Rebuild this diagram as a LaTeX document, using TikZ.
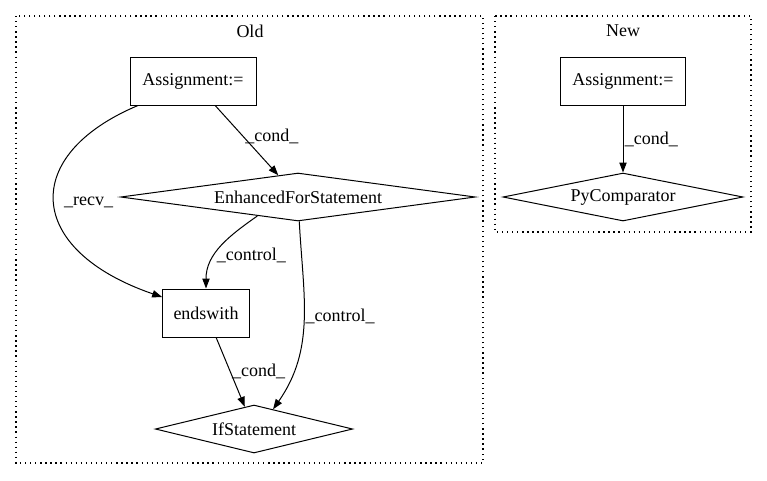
\documentclass[tikz,border=0pt]{standalone}
\usepackage{fontspec}
\setmainfont{Liberation Serif}
\usepackage{tikz}
\usetikzlibrary{shapes.geometric, arrows.meta}

\begin{document}
\begin{tikzpicture}[x=0.75pt, y=-0.75pt, line width=0.75pt,
    font=\fontsize{13.5}{16}\selectfont,
    >={Triangle[length=7.5pt, width=5.5pt]},
    box/.style={draw, rectangle, inner sep=0pt, minimum height=36pt},
    decision/.style={draw, diamond, aspect=6, inner sep=0pt, minimum height=36pt},
    cluster/.style={line width=0.9pt, dash pattern=on 1pt off 2.8pt},
    lbl/.style={anchor=west, inner sep=1pt}]
    \useasboundingbox (0,0) rectangle (767,480);

    % Clusters
    \draw[cluster] (16,16) rectangle (483,463);
    \node (oldlbl) at (250,31) {Old};
    \draw[cluster] (495,16) rectangle (751,232);
    \node (newlbl) at (623,31) {New};

    % Nodes
    \node[box, minimum width=94.5pt] (asg1) at (193,81) {Assignment:=};
    \node[decision, minimum width=266pt] (efs) at (298,197) {EnhancedForStatement};
    \node[box, minimum width=65pt] (ends) at (206,313) {endswith};
    \node[decision, minimum width=148pt] (ifs) at (254,429) {IfStatement};
    \node[box, minimum width=94pt] (asg2) at (623,81) {Assignment:=};
    \node[decision, minimum width=180pt] (pyc) at (623,197) {PyComparator};

    % Arrows
    \draw[->] (asg1) -- (efs) node[lbl, pos=0.45] {\_cond\_};
    \draw[->] (asg1.204) .. controls (20,155) and (25,250) .. (ends.160)
        node[lbl, pos=0.5, xshift=6pt] {\_recv\_};
    \draw[->] (efs.205) to[out=215, in=90] node[lbl, pos=0.62] {\_control\_} (ends);
    \draw[->] (efs) to[out=-87, in=55] node[lbl, pos=0.48] {\_control\_} (ifs.46);
    \draw[->] (ends) -- (ifs) node[lbl, pos=0.49] {\_cond\_};
    \draw[->] (asg2) -- (pyc) node[lbl, pos=0.5] {\_cond\_};
\end{tikzpicture}
\end{document}
